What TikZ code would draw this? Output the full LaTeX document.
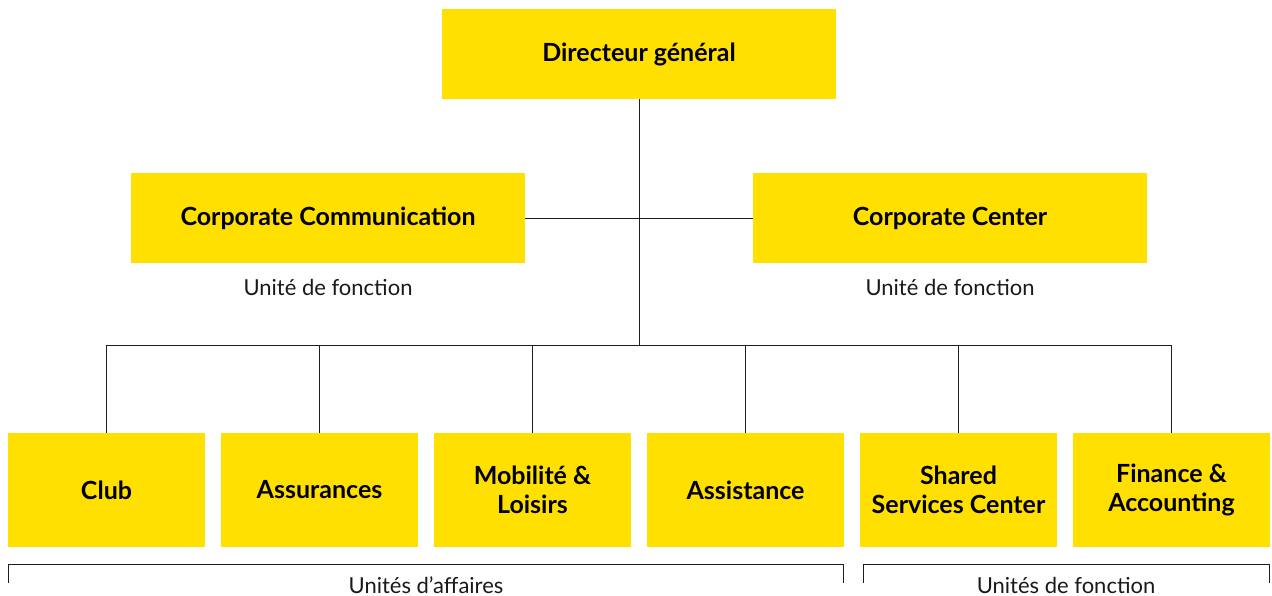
\documentclass[tikz,border=0pt]{standalone}
\usepackage{fontspec}
\setmainfont{Lato}
\definecolor{boxyellow}{RGB}{255,224,0}
\definecolor{linegray}{RGB}{30,30,30}
\begin{document}
\begin{tikzpicture}[x=1pt,y=-1pt,
  box/.style={fill=boxyellow,draw=none,minimum width=394pt,minimum height=90pt,inner sep=0pt,align=center,font=\fontsize{25}{29}\selectfont\bfseries},
  smallbox/.style={box,minimum width=197pt,minimum height=114pt},
  lab/.style={font=\fontsize{22}{24}\selectfont,inner sep=0pt,text=black!90},
  conn/.style={draw=linegray,line width=1pt}]
\useasboundingbox (0,0) rectangle (1272,595);
\clip (0,0) rectangle (1272,595);
\node[box] (dg) at (639,54) {Directeur général};
\node[box] (cc) at (328,218) {Corporate Communication};
\node[box] (ccr) at (950,218) {Corporate Center};
\node[lab] (l1) at (328,287) {Unité de fonction};
\node[lab] (l2) at (950,287) {Unité de fonction};
\coordinate (bus) at (639,345);
\node[smallbox] (club) at (106.5,490) {Club};
\node[smallbox] (ass) at (319.5,490) {Assurances};
\node[smallbox] (mob) at (532.5,490) {Mobilité \&\\Loisirs};
\node[smallbox] (asi) at (745.5,490) {Assistance};
\node[smallbox] (ssc) at (958.5,490) {Shared\\Services Center};
\node[smallbox] (fin) at (1171.5,490) {Finance \&\\Accounting};
\draw[conn] (dg.south) -- (bus);
\draw[conn] (cc.east) -- (ccr.west);
\foreach \n in {club,ass,mob,asi,ssc,fin} \draw[conn] (\n.north) |- (bus);
\coordinate (a1) at (8.5,583);
\coordinate (a2) at (8.5,564);
\coordinate (a3) at (843,564);
\coordinate (a4) at (843,583);
\coordinate (b1) at (863,583);
\coordinate (b2) at (863,564);
\coordinate (b3) at (1269,564);
\coordinate (b4) at (1269,583);
\draw[conn] (a1) -- (a2) -- (a3) -- (a4);
\draw[conn] (b1) -- (b2) -- (b3) -- (b4);
\node[lab,anchor=base] (u1) at (426,593) {Unités d’affaires};
\node[lab,anchor=base] (u2) at (1066,593) {Unités de fonction};
\end{tikzpicture}
\end{document}
